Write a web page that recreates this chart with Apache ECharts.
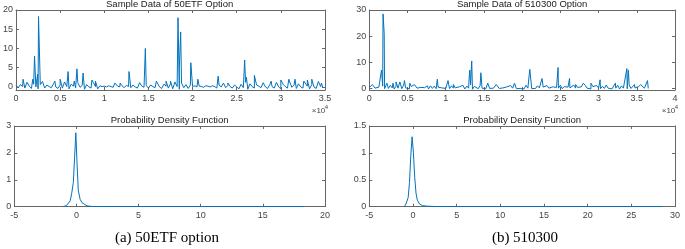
<!DOCTYPE html>
<html>
<head>
<meta charset="utf-8">
<script src="https://cdn.jsdelivr.net/npm/echarts@6/dist/echarts.min.js"></script>
<style>
  html, body { margin: 0; padding: 0; background: #fff; }
  #main { width: 685px; height: 249px; }
</style>
</head>
<body>
<div id="main"></div>
<script>
// baseline noise, one value every 250 samples
var etfStep = 250;
var etfBase = [
  0.4,-0.2,0.6,0.1,-0.3,1.2,0.2,-0.4,0.7,0.0,
  -0.5,0.6,1.4,-0.3,0.5,0.1,-0.2,0.8,0.0,-0.4,
  0.5,-0.3,1.3,0.1,-0.5,0.7,0.2,-0.3,1.1,-0.1,
  0.4,-0.6,0.6,0.0,-0.3,1.2,0.1,-0.5,0.3,0.1,
  0.2,0.0,0.3,0.1,-0.1,0.9,0.2,0.0,0.3,-0.2,
  0.4,0.1,-0.2,0.5,0.0,-0.3,1.1,0.2,-0.1,0.4,
  -0.3,0.5,0.1,-0.2,1.2,0.0,-0.4,0.7,0.2,-0.3,
  0.8,-0.5,1.3,0.1,-0.6,1.0,-0.2,0.6,-0.4,0.5,
  0.1,0.3,0.0,0.2,0.1,-0.1,0.3,0.2,0.0,0.3,
  0.1,-0.3,0.5,0.0,1.0,-0.2,0.4,0.1,-0.3,0.5,
  0.0,-0.5,0.7,-0.2,1.2,-0.6,0.8,0.1,-0.3,0.5,
  0.2,-0.2,1.1,0.0,-0.4,0.6,0.1,-0.3,1.2,0.0,
  -0.5,0.7,0.1,-0.3,1.3,-0.1,0.5,-0.4,0.8,0.0,
  -0.3,1.2,0.2,-0.5,0.6,0.0,-0.4,1.4,0.1,-0.2
];
// [sample index, value]
var etfSpikes = [
  [800,2],[1900,2],[2100,8],[2450,3.3],[2550,18.3],[3200,1],[4400,1.5],[5000,2],
  [5900,4],[6600,1.5],[6900,4.7],[7600,3.6],[8600,1.8],[9000,1.5],[11200,1],[11800,1],
  [12800,4],[14650,10],[15900,1.5],[17000,1.5],[17500,1.5],[18350,18],[18500,5],[18650,14.3],
  [19800,6.3],[20600,2],[22900,2.8],[23600,1],[24000,1],[25900,7],[26100,2.5],[27000,3],
  [28000,1.5],[28900,1.5],[30000,1.8],[30900,2],[31600,2],[32600,1.5],[33000,1.8],[33500,2],[34600,1]
];

var hsStep = 250;
var hsBase = [
  0.3,0.0,0.8,0.1,-0.2,0.5,0.1,0.9,-0.1,0.6,
  0.0,1.2,0.2,-0.2,0.9,0.1,0.5,-0.1,1.3,0.2,
  0.4,-0.2,0.7,0.0,1.1,0.1,-0.1,0.4,0.0,0.3,
  0.1,-0.2,0.4,0.0,0.9,-0.1,0.5,0.0,0.2,0.4,
  0.0,0.3,-0.1,1.0,0.1,0.2,-0.2,0.6,0.0,1.2,
  -0.2,0.9,0.1,1.4,-0.3,0.8,0.2,-0.1,1.1,0.1,
  0.4,-0.1,0.5,0.0,0.3,0.1,-0.2,1.0,0.0,0.3,
  0.2,-0.1,0.6,0.0,1.1,0.1,0.7,-0.1,0.3,0.0,
  0.5,-0.2,1.2,0.1,0.3,-0.1,0.6,0.0,1.0,0.2,
  -0.1,0.5,0.0,1.1,0.1,-0.2,0.6,0.0,0.4,0.1,
  1.2,-0.1,0.7,0.0,0.5,0.2,-0.2,1.3,0.1,0.4,
  0.0,0.6,-0.1,1.2,0.1,0.5,-0.2,0.7,0.0,1.1,
  0.2,-0.1,0.8,0.0,1.3,0.1,0.7,-0.2,0.4,0.1,
  1.2,-0.2,1.0,0.1,0.6,-0.1,1.4,0.0,0.5,0.2,
  -0.1,0.7,0.0,1.2,0.1,0.5,0.0
];
var hsSpikes = [
  [400,1.5],[1400,1],[1600,7],[1800,28.5],[1950,21],[2300,2],[3100,2],[3500,2.5],
  [4000,2.5],[4600,3],[5300,2],[5900,1.5],[6100,1.5],[7600,1],[8000,1],[8900,3.5],
  [10300,3],[11000,1.5],[12300,1.5],[12800,1.5],[13050,3.5],[13150,7],[13400,10.5],[14600,6],
  [15500,2],[16600,1.5],[19000,2],[21000,7.3],[22600,3.8],[24700,8],[26200,3.8],[27000,1.5],
  [28000,2],[29000,2],[30200,3.3],[31000,2],[32200,2],[33700,7.6],[33900,7],[34700,1.5],
  [35500,1.5],[36400,3]
];

// kernel density estimates
var etfPdfX = [-1.1,-0.8,-0.65,-0.5,-0.38,-0.25,-0.15,-0.05,0.05,0.15,0.3,0.45,0.6,0.85,1.2,2,4,8,12,16,18.3];
var etfPdfY = [0,0.04,0.1,0.22,0.5,0.9,1.8,2.75,1.6,0.6,0.27,0.15,0.08,0.03,0.01,0.005,0,0,0,0,0];
var hsPdfX = [-1.0,-0.8,-0.55,-0.4,-0.25,-0.1,0.05,0.2,0.35,0.5,0.75,1.1,1.6,2.5,5,10,15,20,25,28.5];
var hsPdfY = [0,0.05,0.17,0.45,0.95,1.3,1.0,0.55,0.25,0.12,0.05,0.02,0.01,0.004,0,0,0,0,0,0];

var titles = ['Sample Data of 50ETF Option', 'Sample Data of 510300 Option',
  'Probability Density Function', 'Probability Density Function'];
var captions = ['(a) 50ETF option', '(b) 510300'];

function series(base, step, spikes) {
  var pts = base.map(function (v, i) { return [i * step, v]; });
  pts = pts.concat(spikes);
  pts.sort(function (a, b) { return a[0] - b[0]; });
  return pts;
}
function zip(xs, ys) {
  return xs.map(function (x, i) { return [x, ys[i]]; });
}

var blue = '#0072BD';
var axisCol = '#666';
var labelCol = '#444';
var font = 'Liberation Sans, Arial, sans-serif';

var grids = [
  { left: 14.3, top: 10, width: 310.7, height: 80 },
  { left: 369.3, top: 10, width: 305.7, height: 80 },
  { left: 14.3, top: 126, width: 310.7, height: 80.7 },
  { left: 369.3, top: 126, width: 305.7, height: 80.7 }
];

// x ranges / y ranges per panel
var xr = [[0, 35000, 5000], [0, 40000, 5000], [-5, 20, 5], [-5, 30, 5]];
var yr = [[-0.8, 20, [0,5,10,15,20]], [-0.6, 30, [0,10,20,30]], [0, 3, [0,1,2,3]], [0, 1.5, [0,0.5,1,1.5]]];

var xAxes = [], yAxes = [];
grids.forEach(function (g, i) {
  var xfmt = i < 2 ? function (v) { return String(v / 10000); } : function (v) { return String(v); };
  [0, 1].forEach(function (k) {
    xAxes.push({
      type: 'value', gridIndex: i, position: k ? 'top' : 'bottom',
      min: xr[i][0], max: xr[i][1], interval: xr[i][2],
      axisLine: { onZero: false, lineStyle: { color: axisCol, width: 1 } },
      axisTick: { inside: true, length: 3, lineStyle: { color: axisCol } },
      axisLabel: { show: !k, color: labelCol, fontSize: 9, fontFamily: font, margin: 4, formatter: xfmt },
      splitLine: { show: false }
    });
    yAxes.push({
      type: 'value', gridIndex: i, position: k ? 'right' : 'left',
      min: yr[i][0], max: yr[i][1],
      axisLine: { onZero: false, lineStyle: { color: axisCol, width: 1 } },
      axisTick: { inside: true, length: 3, customValues: yr[i][2], lineStyle: { color: axisCol } },
      axisLabel: { show: !k, color: labelCol, fontSize: 9, fontFamily: font, margin: 3, customValues: yr[i][2] },
      splitLine: { show: false }
    });
  });
});

var data = [
  series(etfBase, etfStep, etfSpikes),
  series(hsBase, hsStep, hsSpikes),
  zip(etfPdfX, etfPdfY),
  zip(hsPdfX, hsPdfY)
];

var graphics = [];
grids.forEach(function (g, i) {
  graphics.push({
    type: 'text', x: g.left + g.width / 2, y: i < 2 ? 4.5 : 120.5,
    style: { text: titles[i], align: 'center', verticalAlign: 'middle', fill: '#222', font: '9.5px ' + font }
  });
});
[[318.5, 110.5, 326.5, 107.5], [668.5, 110.5, 676.5, 107.5]].forEach(function (p) {
  graphics.push({ type: 'text', x: p[0], y: p[1],
    style: { text: '×10', align: 'center', verticalAlign: 'middle', fill: labelCol, font: '8px ' + font } });
  graphics.push({ type: 'text', x: p[2], y: p[3],
    style: { text: '4', align: 'center', verticalAlign: 'middle', fill: labelCol, font: '6px ' + font } });
});
graphics.push({ type: 'text', x: 167, y: 238.5,
  style: { text: captions[0], align: 'center', verticalAlign: 'middle', fill: '#000', font: '15px Liberation Serif, Times New Roman, serif' } });
graphics.push({ type: 'text', x: 525, y: 238.5,
  style: { text: captions[1], align: 'center', verticalAlign: 'middle', fill: '#000', font: '15px Liberation Serif, Times New Roman, serif' } });

var myChart = echarts.init(document.getElementById('main'));
var option = {
  animation: false,
  backgroundColor: '#fff',
  grid: grids,
  xAxis: xAxes,
  yAxis: yAxes,
  series: data.map(function (d, i) {
    return {
      type: 'line', xAxisIndex: i * 2, yAxisIndex: i * 2,
      data: d, showSymbol: false, silent: true,
      lineStyle: { color: blue, width: 1 }
    };
  }),
  graphic: graphics
};
myChart.setOption(option);
</script>
</body>
</html>
